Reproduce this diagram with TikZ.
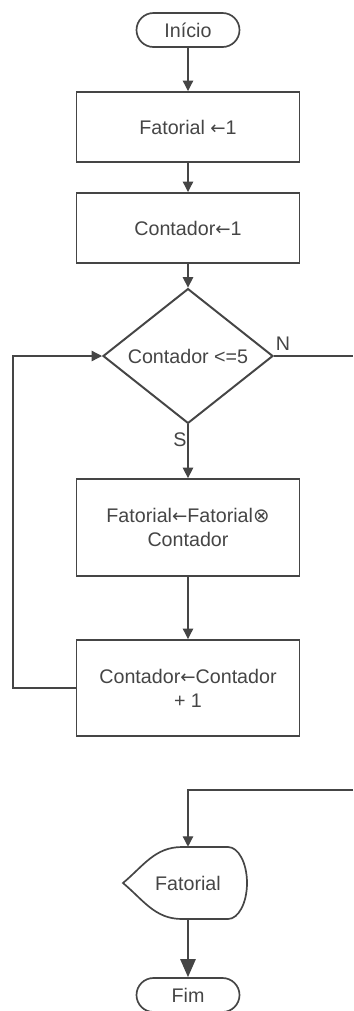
\documentclass[tikz,border=0pt]{standalone}
\usepackage{fontspec}
\setmainfont{Liberation Sans}
\newfontfamily\symfont{DejaVu Sans}
\newcommand{\seta}{{\symfont\fontsize{13}{17}\selectfont ←}}
\usetikzlibrary{shapes.geometric,arrows.meta}
\definecolor{tinta}{gray}{0.27}

\begin{document}
\begin{tikzpicture}[
  color=tinta, font=\fontsize{14}{17}\selectfont,
  bloco/.style={draw, line width=1.4pt, minimum width=5.575cm, align=center},
  terminal/.style={draw, line width=1.2pt, rounded corners=4.25mm, minimum width=2.575cm, minimum height=8.5mm},
  decisao/.style={draw, diamond, line width=1.4pt, minimum width=4.25cm, minimum height=3.05cm, inner sep=0pt},
  fluxo/.style={-{Triangle[length=2.6mm,width=2.6mm]}, line width=0.9pt}
]
\useasboundingbox (0,0) rectangle (8.825,-25.275);
\node[terminal] (inicio) at (4.7,-0.75) {Início};
\node[bloco, minimum height=1.75cm] (fat) at (4.7,-3.175) {Fatorial \seta1};
\node[bloco, minimum height=1.75cm] (cont) at (4.7,-5.7) {Contador\seta1};
\node[decisao] (teste) at (4.7,-8.9) {Contador <=5};
\node[bloco, minimum height=2.425cm] (mult) at (4.7,-13.19) {Fatorial\seta Fatorial{\symfont ⊗}\\Contador};
\node[bloco, minimum height=2.4cm] (incr) at (4.7,-17.2) {Contador\seta Contador\\+ 1};
\node[minimum width=3.1cm, minimum height=1.8cm, inner sep=0pt] (saida) at (4.7,-22.075) {Fatorial};
\node[terminal] (fim) at (4.7,-24.875) {Fim};
\node (nao) at (7.075,-8.6) {N};
\node (sim) at (4.5,-11.0) {S};
\coordinate (esq) at (0.325,0);
\coordinate (dir1) at (8.825,-8.9);
\coordinate (dir2) at (8.825,-19.75);
% saida (exibir)
\draw[line width=1.2pt, shift={(saida.center)}] (-1.625,0) to[out=40,in=180] (-0.15,0.9) -- (1.0,0.9)
  arc[start angle=90, end angle=-90, x radius=0.475cm, y radius=0.9cm] -- (-0.15,-0.9) to[out=180,in=-40] cycle;
\draw[fluxo] (inicio) -- (fat);
\draw[fluxo] (fat) -- (cont);
\draw[fluxo] (cont) -- (teste);
\draw[fluxo] (teste) -- (mult);
\draw[fluxo] (mult) -- (incr);
\draw[fluxo] (incr.west) -- (incr.west -| esq) |- (teste.west);
\draw[line width=0.9pt] (teste.east) -- (dir1);
\draw[fluxo] (dir2) -| (saida.north);
\draw[-{Triangle[length=4.5mm,width=3.8mm]}, line width=1.4pt] (saida.south) -- (fim);
\end{tikzpicture}
\end{document}
